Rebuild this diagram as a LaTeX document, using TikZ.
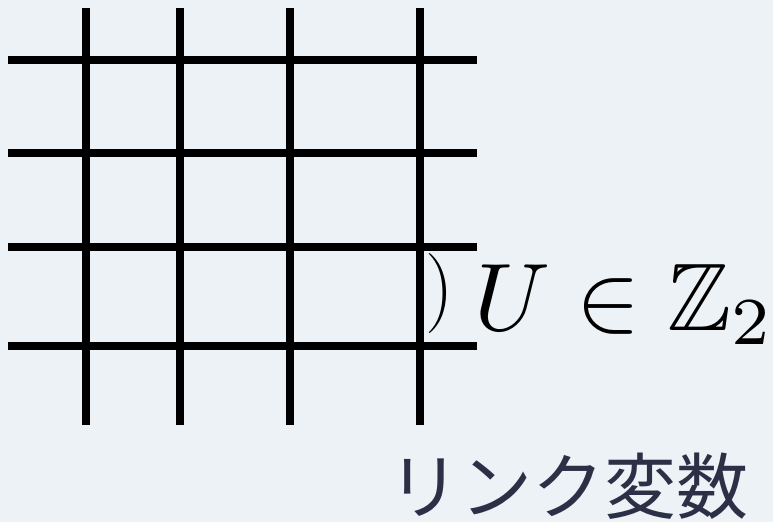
\documentclass[tikz,border=0pt]{standalone}
\usepackage{fontspec}
\usepackage{amssymb}
\usepackage{graphicx}
\newfontfamily\cjk{Noto Sans CJK JP}
\definecolor{bg}{HTML}{ECF2F5}
\definecolor{jp}{RGB}{44,48,70}
\begin{document}
\begin{tikzpicture}[x=1pt,y=-1pt,
  gridline/.style={line width=8pt, black}]
\fill[bg] (0,0) rectangle (773,522);
\useasboundingbox (0,0) rectangle (773,522);
\foreach \y in {60,153,247,346} {\draw[gridline] (8,\y) -- (477,\y);}
\foreach \x in {86,180,290,420} {\draw[gridline] (\x,8) -- (\x,425);}
\node[anchor=base, inner sep=0pt] (paren) at (440,313) {\fontsize{80}{90}\selectfont )};
\node[anchor=base west, inner sep=0pt] (lab) at (474,330) {\scalebox{9.6}{$U \in \mathbb{Z}_2$}};
\node[anchor=center, inner sep=0pt, text=jp] (jptext) at (568,486) {\cjk\fontsize{72}{80}\selectfont リンク変数};
\end{tikzpicture}
\end{document}
